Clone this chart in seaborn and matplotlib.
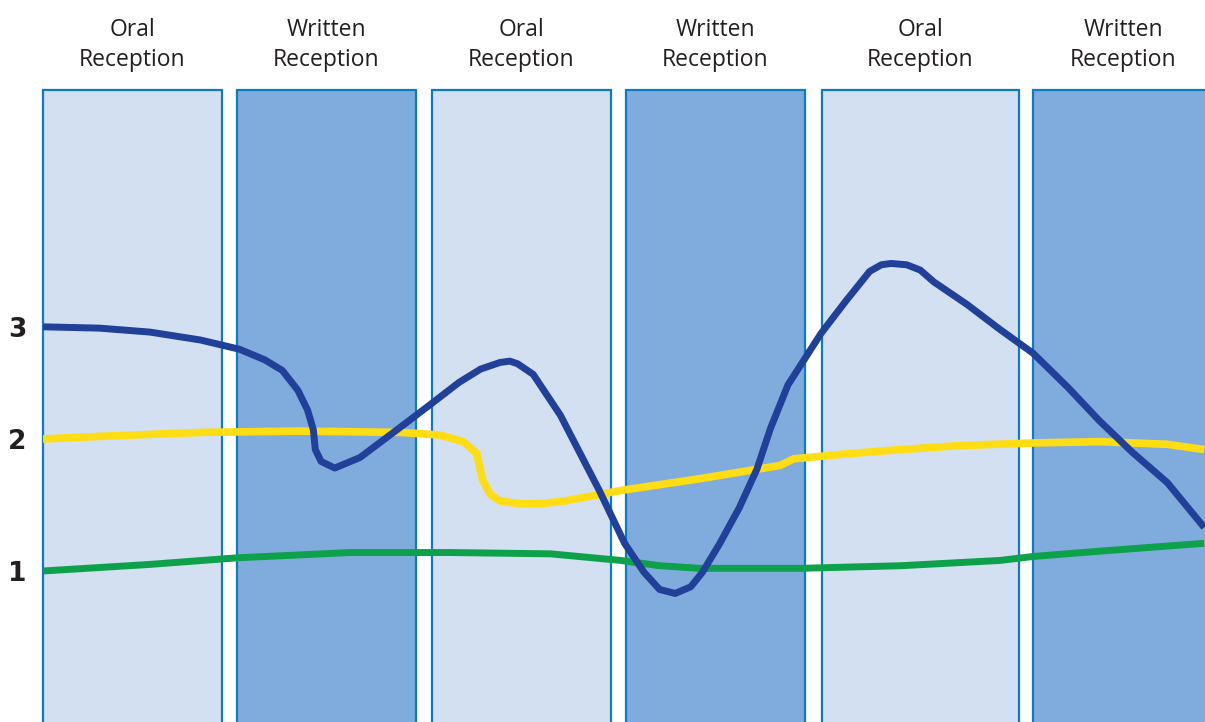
import matplotlib
matplotlib.use("Agg")
import matplotlib.pyplot as plt
import seaborn as sns
import numpy as np

sns.set_theme(style="white")
plt.rcParams['font.family'] = ['Open Sans', 'DejaVu Sans']

# column headers (alternating oral / written)
headers = ["Oral\nReception", "Written\nReception", "Oral\nReception",
           "Written\nReception", "Oral\nReception", "Written\nReception"]
band_kind = ["oral", "written", "oral", "written", "oral", "written"]

# y tick levels (the 3 level sits closer to 2 than 1 does)
level_pos = [1.0, 2.0, 2.85]
level_lab = ["1", "2", "3"]

# lines, x in column units (0 = start of first column)
blue_x = [0.00, 0.29, 0.55, 0.81, 1.01, 1.14, 1.23, 1.31, 1.36, 1.39, 1.40, 1.43,
          1.50, 1.63, 1.82, 1.99, 2.14, 2.25, 2.35, 2.40, 2.44, 2.52, 2.66, 2.86,
          2.99, 3.09, 3.17, 3.25, 3.33, 3.39, 3.48, 3.58, 3.67, 3.74, 3.83, 4.00,
          4.13, 4.25, 4.31, 4.36, 4.44, 4.51, 4.58, 4.75, 4.92, 5.09, 5.27, 5.43,
          5.60, 5.78, 5.97]
blue_y = [2.85, 2.84, 2.81, 2.75, 2.68, 2.60, 2.52, 2.37, 2.22, 2.07, 1.92, 1.83,
          1.78, 1.86, 2.07, 2.26, 2.43, 2.53, 2.58, 2.59, 2.57, 2.49, 2.18, 1.61,
          1.21, 0.99, 0.86, 0.83, 0.88, 0.99, 1.21, 1.48, 1.77, 2.08, 2.41, 2.80,
          3.05, 3.27, 3.32, 3.33, 3.32, 3.28, 3.19, 3.02, 2.83, 2.65, 2.39, 2.14,
          1.90, 1.67, 1.33]

yellow_x = [0.00, 0.29, 0.81, 1.32, 1.84, 2.04, 2.16, 2.23, 2.26, 2.30, 2.35, 2.45,
            2.56, 2.68, 2.97, 3.38, 3.79, 3.86, 4.15, 4.41, 4.71, 5.09, 5.43, 5.78, 5.97]
yellow_y = [2.00, 2.02, 2.05, 2.06, 2.05, 2.03, 1.98, 1.89, 1.69, 1.58, 1.53, 1.51,
            1.51, 1.53, 1.61, 1.70, 1.80, 1.85, 1.89, 1.92, 1.95, 1.97, 1.98, 1.96, 1.92]

green_x = [0.00, 0.55, 1.00, 1.58, 2.09, 2.61, 2.97, 3.17, 3.38, 3.89, 4.41, 4.92,
           5.09, 5.43, 5.97]
green_y = [1.00, 1.05, 1.10, 1.14, 1.14, 1.13, 1.08, 1.04, 1.02, 1.02, 1.04, 1.08,
           1.11, 1.15, 1.21]

# band geometry (column units)
band_left = [0.0, 0.997, 2.0, 2.997, 4.005, 5.09]
band_right = [0.92, 1.918, 2.92, 3.918, 5.018, 6.015]
band_top = 4.644
band_colors = {"oral": "#d3e0f1", "written": "#80acdd"}
edge_color = "#0b7bc4"

fig = plt.figure(figsize=(12.05, 7.22), dpi=100)
ax = fig.add_axes([43 / 1205, 0, 1 - 43 / 1205, 1])

y_bottom = -0.144
ax.set_xlim(0, 5.974)
ax.set_ylim(y_bottom, 5.326)

for left, right, kind, head in zip(band_left, band_right, band_kind, headers):
    ax.bar(left, band_top - (y_bottom - 0.5), width=right - left, bottom=y_bottom - 0.5,
           align="edge", color=band_colors[kind], edgecolor=edge_color,
           linewidth=1.6, clip_on=False, zorder=1)
    ax.text((left + right) / 2, 4.985, head, ha="center", va="center",
            fontsize=16.5, color="#231f20", linespacing=1.3)

sns.lineplot(x=green_x, y=green_y, ax=ax, color="#0ea14b", linewidth=5,
             estimator=None, sort=False, zorder=3)
sns.lineplot(x=yellow_x, y=yellow_y, ax=ax, color="#ffdd15", linewidth=5.5,
             estimator=None, sort=False, zorder=4)
sns.lineplot(x=blue_x, y=blue_y, ax=ax, color="#21409a", linewidth=5,
             estimator=None, sort=False, zorder=5)
for ln in ax.get_lines():
    ln.set_solid_joinstyle("round")
    ln.set_solid_capstyle("butt")

ax.set_xticks([])
ax.set_yticks(level_pos)
ax.set_yticklabels(level_lab, fontsize=19, fontweight="bold", color="#231f20",
                   family="DejaVu Sans")
ax.tick_params(axis="y", length=0, pad=12)
for s in ax.spines.values():
    s.set_visible(False)
ax.set_facecolor("white")

fig.savefig("out.png", dpi=100)
